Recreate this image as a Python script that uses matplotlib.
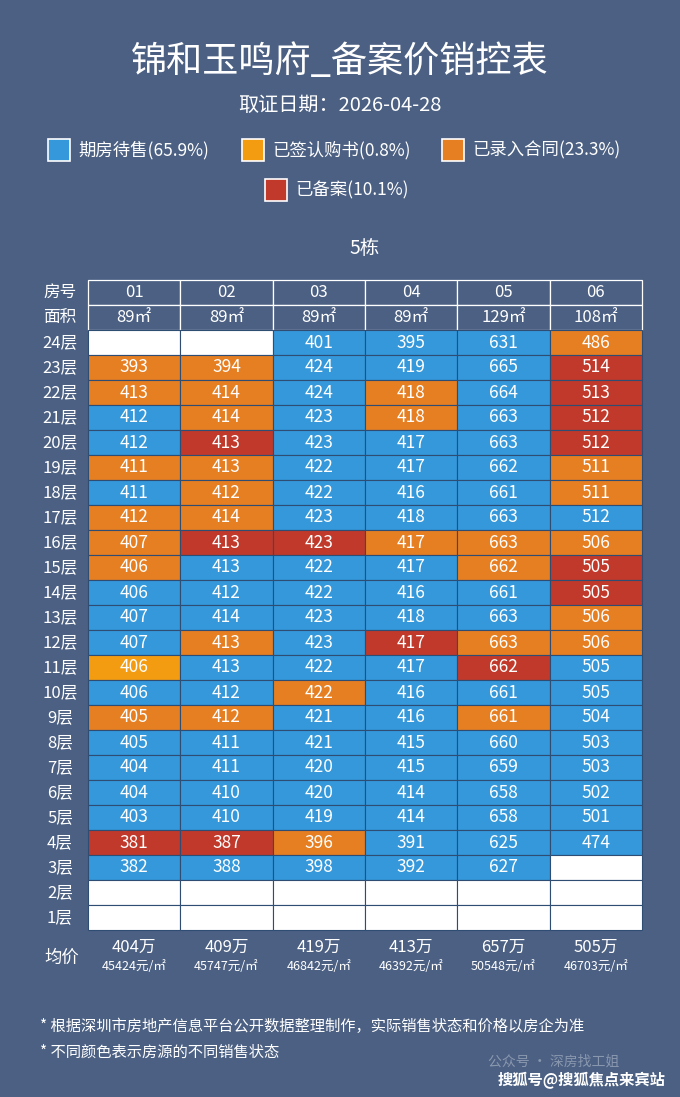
import matplotlib
matplotlib.use("Agg")
import matplotlib.pyplot as plt
from matplotlib.patches import Rectangle

plt.rcParams['font.family'] = ['Noto Sans CJK SC', 'DejaVu Sans']

title = "锦和玉鸣府_备案价销控表"
subtitle = "取证日期：2026-04-28"
building = "5栋"
units = ["01", "02", "03", "04", "05", "06"]
areas = ["89㎡", "89㎡", "89㎡", "89㎡", "129㎡", "108㎡"]
floors = [f"{i}层" for i in range(24, 0, -1)]
legend_labels = ["期房待售(65.9%)", "已签认购书(0.8%)", "已录入合同(23.3%)", "已备案(10.1%)"]
avg_total = ["404万", "409万", "419万", "413万", "657万", "505万"]
avg_unit = ["45424元/㎡", "45747元/㎡", "46842元/㎡", "46392元/㎡", "50548元/㎡", "46703元/㎡"]

prices = [
    [None, None, 401, 395, 631, 486],
    [393, 394, 424, 419, 665, 514],
    [413, 414, 424, 418, 664, 513],
    [412, 414, 423, 418, 663, 512],
    [412, 413, 423, 417, 663, 512],
    [411, 413, 422, 417, 662, 511],
    [411, 412, 422, 416, 661, 511],
    [412, 414, 423, 418, 663, 512],
    [407, 413, 423, 417, 663, 506],
    [406, 413, 422, 417, 662, 505],
    [406, 412, 422, 416, 661, 505],
    [407, 414, 423, 418, 663, 506],
    [407, 413, 423, 417, 663, 506],
    [406, 413, 422, 417, 662, 505],
    [406, 412, 422, 416, 661, 505],
    [405, 412, 421, 416, 661, 504],
    [405, 411, 421, 415, 660, 503],
    [404, 411, 420, 415, 659, 503],
    [404, 410, 420, 414, 658, 502],
    [403, 410, 419, 414, 658, 501],
    [381, 387, 396, 391, 625, 474],
    [382, 388, 398, 392, 627, None],
    [None] * 6,
    [None] * 6,
]
status = [
    "WWBBBO", "OOBBBR", "OOBOBR", "BOBOBR", "BRBBBR", "OOBBBO",
    "BOBBBO", "OOBBBB", "ORROOO", "OBBBOR", "BBBBBR", "BBBBBO",
    "BOBROO", "YBBBRB", "BBOBBB", "OOBBOB", "BBBBBB", "BBBBBB",
    "BBBBBB", "BBBBBB", "RROBBB", "BBBBBW", "WWWWWW", "WWWWWW",
]
colors = {"B": "#3498db", "Y": "#f39c12", "O": "#e67e22", "R": "#c0392b", "W": "#ffffff"}
legend_keys = ["B", "Y", "O", "R"]

bg = "#4b6083"
W, H = 680, 1097
fig = plt.figure(figsize=(W / 100, H / 100), dpi=100, facecolor=bg)
ax = fig.add_axes([0, 0, 1, 1])
ax.set_xlim(0, W); ax.set_ylim(H, 0); ax.axis("off")

ax.text(340, 62, title, color="white", fontsize=26, ha="center", va="center")
ax.text(340, 105, subtitle, color="white", fontsize=14.5, ha="center", va="center")

leg_pos = [(48, 150), (242, 150), (442, 150), (265, 190)]
for (lx, ly), k, lab in zip(leg_pos, legend_keys, legend_labels):
    ax.add_patch(Rectangle((lx, ly - 11), 22, 22, facecolor=colors[k], edgecolor="white", lw=1.2))
    ax.text(lx + 30, ly, lab, color="white", fontsize=12.5, va="center")

ax.text(365, 249, building, color="white", fontsize=14, ha="center", va="center")

x0, x1 = 88, 642
cw = (x1 - x0) / len(units)
rh = 25
y_head = 280
for j, (u, a) in enumerate(zip(units, areas)):
    cx = x0 + j * cw
    for r, t in enumerate([u, a]):
        y = y_head + r * rh
        ax.add_patch(Rectangle((cx, y), cw, rh, facecolor=bg, edgecolor="white", lw=0.9))
        ax.text(cx + cw / 2, y + rh / 2, t, color="white", fontsize=12, ha="center", va="center")
ax.text(60, y_head + rh / 2, "房号", color="white", fontsize=12, ha="center", va="center")
ax.text(60, y_head + 1.5 * rh, "面积", color="white", fontsize=12, ha="center", va="center")

y_body = y_head + 2 * rh
for i, fl in enumerate(floors):
    y = y_body + i * rh
    ax.text(60, y + rh / 2, fl, color="white", fontsize=12, ha="center", va="center")
    for j in range(len(units)):
        cx = x0 + j * cw
        k = status[i][j]
        ax.add_patch(Rectangle((cx, y), cw, rh, facecolor=colors[k], edgecolor="#2f4d72", lw=0.8))
        p = prices[i][j]
        if p is not None:
            ax.text(cx + cw / 2, y + rh / 2, str(p), color="white", fontsize=12.5, ha="center", va="center")

ya = y_body + len(floors) * rh
ax.text(62, ya + 28, "均价", color="white", fontsize=12.5, ha="center", va="center")
for j in range(len(units)):
    cx = x0 + j * cw + cw / 2
    ax.text(cx, ya + 17, avg_total[j], color="white", fontsize=12, ha="center", va="center")
    ax.text(cx, ya + 37, avg_unit[j], color="white", fontsize=9, ha="center", va="center")

ax.text(40, 1026, "* 根据深圳市房地产信息平台公开数据整理制作，实际销售状态和价格以房企为准", color="white", fontsize=11, va="center")
ax.text(40, 1052, "* 不同颜色表示房源的不同销售状态", color="white", fontsize=11, va="center")
ax.text(488, 1062, "公众号 · 深房找工姐", color="white", alpha=0.35, fontsize=10, va="center")
ax.text(665, 1080, "搜狐号@搜狐焦点来宾站", color="white", fontsize=11, fontweight="bold", ha="right", va="center")

fig.savefig("out.png", dpi=100, facecolor=bg)
